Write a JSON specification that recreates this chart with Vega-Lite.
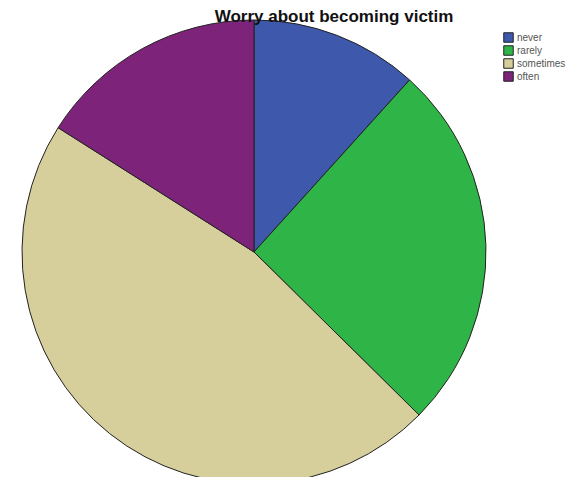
{
  "$schema": "https://vega.github.io/schema/vega-lite/v6.json",
  "autosize": "none",
  "padding": {"top": 24, "left": 0, "right": 63, "bottom": 0},
  "width": 508,
  "height": 456,
  "background": "white",
  "title": {
    "text": "Worry about becoming victim",
    "font": "Liberation Sans",
    "fontSize": 17,
    "fontWeight": "bold",
    "color": "#111111",
    "anchor": "middle",
    "dx": 80,
    "offset": -8
  },
  "data": {
    "values": [
      {"answer": "never", "rank": 1, "percent": 11.7},
      {"answer": "rarely", "rank": 2, "percent": 25.7},
      {"answer": "sometimes", "rank": 3, "percent": 46.6},
      {"answer": "often", "rank": 4, "percent": 16.0}
    ]
  },
  "mark": {"type": "arc", "outerRadius": 232, "stroke": "#222222", "strokeWidth": 1},
  "encoding": {
    "theta": {"field": "percent", "type": "quantitative", "stack": true},
    "order": {"field": "rank", "type": "quantitative"},
    "color": {
      "field": "answer",
      "type": "nominal",
      "scale": {
        "domain": ["never", "rarely", "sometimes", "often"],
        "range": ["#3e58ac", "#2fb547", "#d6cf9c", "#7d2379"]
      },
      "legend": {
        "title": null,
        "orient": "none",
        "legendX": 503,
        "legendY": 8,
        "symbolType": "square",
        "symbolSize": 90,
        "symbolStrokeColor": "#222222",
        "symbolStrokeWidth": 1,
        "symbolOpacity": 1,
        "labelFont": "Liberation Sans",
        "labelFontSize": 10,
        "labelColor": "#555555",
        "labelOffset": 3,
        "rowPadding": -11
      }
    }
  },
  "config": {"view": {"stroke": null}}
}
